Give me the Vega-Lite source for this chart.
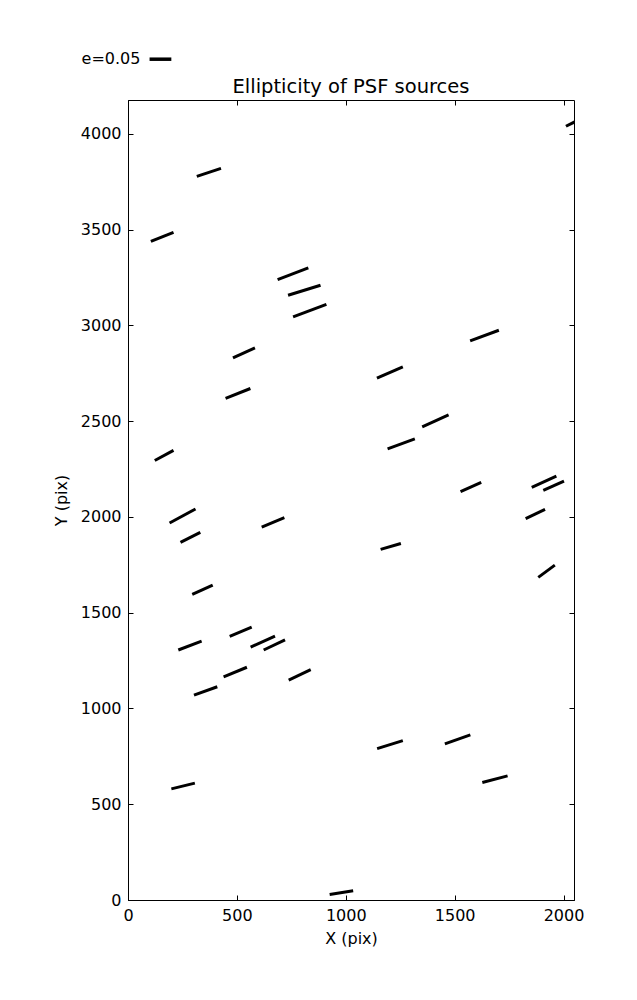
{
  "$schema": "https://vega.github.io/schema/vega-lite/v6.json",
  "width": 446,
  "height": 800,
  "autosize": {"type": "none"},
  "padding": {"left": 128, "top": 100, "right": 63, "bottom": 100},
  "background": "white",
  "title": {"text": "Ellipticity of PSF sources", "font": "DejaVu Sans", "fontSize": 19.5, "fontWeight": "normal", "color": "black", "anchor": "middle", "baseline": "alphabetic", "offset": 7, "dy": 68},
  "config": {
    "view": {"stroke": "black", "strokeWidth": 1},
    "axis": {"grid": false, "domainColor": "black", "tickColor": "black", "labelColor": "black", "titleColor": "black", "labelFont": "DejaVu Sans", "titleFont": "DejaVu Sans", "labelFontSize": 16, "titleFontSize": 16, "titleFontWeight": "normal", "tickSize": -5, "labelPadding": 12, "format": "d", "labelFlush": false}
  },
  "datasets": {
    "whiskers": [
      {"x": 316, "y": 3777, "x2": 427, "y2": 3819},
      {"x": 105, "y": 3438, "x2": 209, "y2": 3485},
      {"x": 687, "y": 3238, "x2": 828, "y2": 3300},
      {"x": 735, "y": 3157, "x2": 884, "y2": 3209},
      {"x": 758, "y": 3044, "x2": 911, "y2": 3109},
      {"x": 482, "y": 2830, "x2": 583, "y2": 2882},
      {"x": 2011, "y": 4039, "x2": 2120, "y2": 4101},
      {"x": 1571, "y": 2919, "x2": 1703, "y2": 2974},
      {"x": 448, "y": 2619, "x2": 562, "y2": 2670},
      {"x": 123, "y": 2294, "x2": 209, "y2": 2347},
      {"x": 191, "y": 1968, "x2": 310, "y2": 2041},
      {"x": 241, "y": 1867, "x2": 332, "y2": 1919},
      {"x": 614, "y": 1947, "x2": 718, "y2": 1996},
      {"x": 295, "y": 1595, "x2": 389, "y2": 1644},
      {"x": 467, "y": 1376, "x2": 568, "y2": 1424},
      {"x": 1143, "y": 2724, "x2": 1262, "y2": 2783},
      {"x": 1351, "y": 2470, "x2": 1472, "y2": 2532},
      {"x": 1192, "y": 2355, "x2": 1317, "y2": 2407},
      {"x": 1527, "y": 2132, "x2": 1622, "y2": 2180},
      {"x": 1854, "y": 2154, "x2": 1967, "y2": 2213},
      {"x": 1907, "y": 2138, "x2": 2002, "y2": 2187},
      {"x": 1826, "y": 1991, "x2": 1915, "y2": 2039},
      {"x": 1160, "y": 1830, "x2": 1253, "y2": 1861},
      {"x": 1884, "y": 1684, "x2": 1960, "y2": 1748},
      {"x": 231, "y": 1305, "x2": 338, "y2": 1351},
      {"x": 563, "y": 1320, "x2": 675, "y2": 1377},
      {"x": 623, "y": 1305, "x2": 721, "y2": 1358},
      {"x": 303, "y": 1069, "x2": 410, "y2": 1113},
      {"x": 439, "y": 1165, "x2": 546, "y2": 1215},
      {"x": 738, "y": 1148, "x2": 839, "y2": 1202},
      {"x": 199, "y": 580, "x2": 307, "y2": 610},
      {"x": 926, "y": 29, "x2": 1034, "y2": 48},
      {"x": 1144, "y": 790, "x2": 1262, "y2": 832},
      {"x": 1455, "y": 815, "x2": 1572, "y2": 862},
      {"x": 1627, "y": 613, "x2": 1743, "y2": 648}
    ],
    "legendkey": [
      {"x": 99, "y": 4389, "x2": 199, "y2": 4389, "label": "e=0.05", "lx": 57}
    ]
  },
  "layer": [
    {
      "data": {"name": "whiskers"},
      "mark": {"type": "rule", "color": "black", "strokeWidth": 3, "strokeCap": "butt", "clip": true},
      "encoding": {
        "x": {"field": "x", "type": "quantitative", "scale": {"domain": [0, 2048], "nice": false, "zero": false}, "axis": {"orient": "bottom", "title": "X (pix)", "values": [0, 500, 1000, 1500, 2000], "titlePadding": 7}},
        "y": {"field": "y", "type": "quantitative", "scale": {"domain": [0, 4176], "nice": false, "zero": false}, "axis": {"orient": "left", "title": "Y (pix)", "values": [0, 500, 1000, 1500, 2000, 2500, 3000, 3500, 4000], "titlePadding": 11}},
        "x2": {"field": "x2"},
        "y2": {"field": "y2"}
      }
    },
    {
      "data": {"name": "legendkey"},
      "mark": {"type": "rule", "color": "black", "strokeWidth": 3.5, "strokeCap": "butt", "clip": false},
      "encoding": {
        "x": {"field": "x", "type": "quantitative", "scale": {"domain": [0, 2048], "nice": false, "zero": false}, "axis": {"orient": "top", "labels": false, "title": null, "domain": false, "values": [0, 500, 1000, 1500, 2000]}},
        "y": {"field": "y", "type": "quantitative", "scale": {"domain": [0, 4176], "nice": false, "zero": false}, "axis": {"orient": "right", "labels": false, "title": null, "domain": false, "values": [0, 500, 1000, 1500, 2000, 2500, 3000, 3500, 4000]}},
        "x2": {"field": "x2"},
        "y2": {"field": "y2"}
      }
    },
    {
      "data": {"name": "legendkey"},
      "mark": {"type": "text", "color": "black", "font": "DejaVu Sans", "fontSize": 16, "align": "right", "baseline": "middle", "clip": false},
      "encoding": {
        "x": {"field": "lx", "type": "quantitative", "axis": null},
        "y": {"field": "y", "type": "quantitative", "axis": null},
        "text": {"field": "label"}
      }
    }
  ],
  "resolve": {"axis": {"x": "independent", "y": "independent"}}
}
